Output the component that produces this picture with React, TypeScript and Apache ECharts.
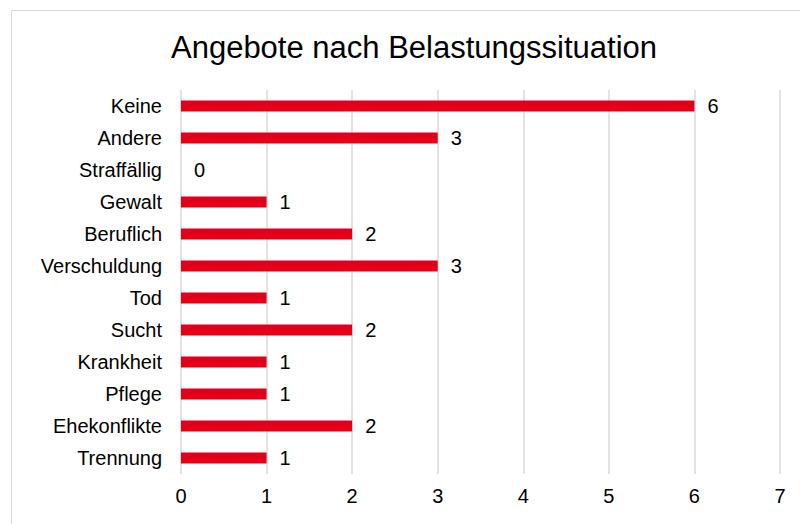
import React, { useEffect, useRef } from "react";
import * as echarts from "echarts";

const titleText = "Angebote nach Belastungssituation";
const categories = ["Keine", "Andere", "Straffällig", "Gewalt", "Beruflich", "Verschuldung", "Tod", "Sucht", "Krankheit", "Pflege", "Ehekonflikte", "Trennung"];
const values = [6, 3, 0, 1, 2, 3, 1, 2, 1, 1, 2, 1];
const xMin = 0;
const xMax = 7;
const xInterval = 1;

export default function App() {
  const ref = useRef<HTMLDivElement>(null);
  useEffect(() => {
    if (!ref.current) return;
    const chart = echarts.init(ref.current, undefined, { renderer: "svg" });
    const font = "'Liberation Sans', Arial, sans-serif";
    chart.setOption({
      animation: false,
      backgroundColor: "#ffffff",
      textStyle: { fontFamily: font },
      title: {
        text: titleText,
        left: 409,
        textAlign: "center",
        top: 27,
        textStyle: { fontFamily: font, fontSize: 31, fontWeight: "normal", color: "#000000" },
      },
      graphic: [
        { type: "line", shape: { x1: 11.5, y1: 10.5, x2: 800, y2: 10.5 }, style: { stroke: "#d9d9d9", lineWidth: 1 } },
        { type: "line", shape: { x1: 11.5, y1: 10.5, x2: 11.5, y2: 524 }, style: { stroke: "#d9d9d9", lineWidth: 1 } },
      ],
      grid: { left: 181, right: 20, top: 90, bottom: 50, containLabel: false },
      xAxis: {
        type: "value",
        min: xMin,
        max: xMax,
        interval: xInterval,
        axisLine: { show: false },
        axisTick: { show: false },
        splitLine: { show: true, lineStyle: { color: "#d9d9d9", width: 1.5 } },
        axisLabel: { color: "#000000", fontSize: 20, margin: 12, fontFamily: font },
      },
      yAxis: {
        type: "category",
        data: categories,
        inverse: true,
        axisLine: { show: false },
        axisTick: { show: false },
        axisLabel: { color: "#000000", fontSize: 20, margin: 19, fontFamily: font },
      },
      series: [
        {
          type: "bar",
          data: values,
          barWidth: 11,
          itemStyle: { color: "#e2001a" },
          label: {
            show: true,
            position: "right",
            distance: 13,
            color: "#000000",
            fontSize: 20,
            fontFamily: font,
          },
        },
      ],
    });
    return () => chart.dispose();
  }, []);
  return (
    <div
      ref={ref}
      style={{ position: "fixed", left: 0, top: 0, width: 800, height: 524 }}
    />
  );
}
